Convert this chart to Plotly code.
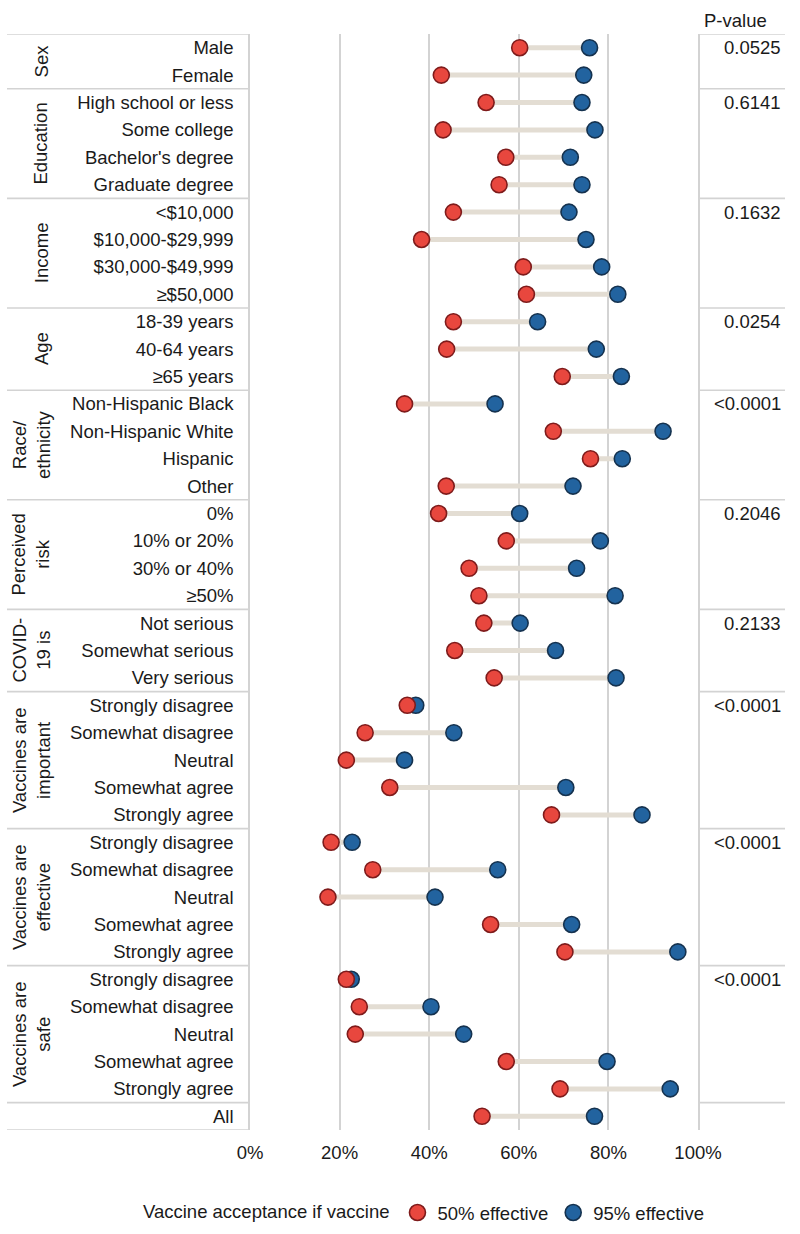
import plotly.graph_objects as go

# ---------------- data ----------------
group_names = ["Sex", "Education", "Income", "Age", "Race/<br>ethnicity",
               "Perceived<br>risk", "COVID-<br>19 is", "Vaccines are<br>important",
               "Vaccines are<br>effective", "Vaccines are<br>safe", ""]
group_sizes = [2, 4, 4, 3, 4, 4, 3, 5, 5, 5, 1]
p_values = ["0.0525", "0.6141", "0.1632", "0.0254", "<0.0001", "0.2046",
            "0.2133", "<0.0001", "<0.0001", "<0.0001", ""]

categories = [
    "Male", "Female",
    "High school or less", "Some college", "Bachelor's degree", "Graduate degree",
    "<$10,000", "$10,000-$29,999", "$30,000-$49,999", "≥$50,000",
    "18-39 years", "40-64 years", "≥65 years",
    "Non-Hispanic Black", "Non-Hispanic White", "Hispanic", "Other",
    "0%", "10% or 20%", "30% or 40%", "≥50%",
    "Not serious", "Somewhat serious", "Very serious",
    "Strongly disagree", "Somewhat disagree", "Neutral", "Somewhat agree", "Strongly agree",
    "Strongly disagree", "Somewhat disagree", "Neutral", "Somewhat agree", "Strongly agree",
    "Strongly disagree", "Somewhat disagree", "Neutral", "Somewhat agree", "Strongly agree",
    "All",
]

eff50 = [60.2, 42.7,
         52.7, 43.1, 57.1, 55.6,
         45.4, 38.3, 61.0, 61.7,
         45.4, 43.9, 69.7,
         34.5, 67.7, 76.0, 43.8,
         42.1, 57.2, 48.9, 51.1,
         52.2, 45.7, 54.5,
         35.1, 25.7, 21.5, 31.2, 67.3,
         18.1, 27.4, 17.4, 53.7, 70.3,
         21.5, 24.4, 23.5, 57.2, 69.2,
         51.8]

eff95 = [75.8, 74.5,
         74.1, 77.0, 71.5, 74.1,
         71.2, 75.0, 78.5, 82.1,
         64.2, 77.3, 82.9,
         54.7, 92.2, 83.1, 72.1,
         60.2, 78.2, 72.9, 81.5,
         60.3, 68.2, 81.7,
         37.0, 45.5, 34.5, 70.5, 87.5,
         22.8, 55.3, 41.3, 71.8, 95.5,
         22.6, 40.4, 47.7, 79.7, 93.8,
         76.9]

x_ticks = [0, 20, 40, 60, 80, 100]
x_tick_labels = ["0%", "20%", "40%", "60%", "80%", "100%"]

# ---------------- styling ----------------
FONT = "Arial, Liberation Sans, sans-serif"
TXT = "#1a1a1a"
LINE = "#d3d3d3"
W, H = 800, 1234
ML, MR, MT, MB = 250, 102, 34, 104
PW = W - ML - MR
PH = H - MT - MB

def px_x(px):
    return (px - ML) / PW

def px_y(py):
    return (H - MB - py) / PH

rows = list(range(len(categories)))

fig = go.Figure()

# connectors
lx, ly = [], []
for r, a, b in zip(rows, eff50, eff95):
    lx += [a, b, None]
    ly += [r, r, None]
fig.add_trace(go.Scatter(x=lx, y=ly, mode="lines",
                         line=dict(color="#E3DDD3", width=5),
                         hoverinfo="skip", showlegend=False))

fig.add_trace(go.Scatter(x=eff95, y=rows, mode="markers", name="95% effective",
                         legendrank=2,
                         marker=dict(size=16, color="#22639F",
                                     line=dict(color="#15324F", width=1.6))))
fig.add_trace(go.Scatter(x=eff50, y=rows, mode="markers", name="50% effective",
                         legendrank=1,
                         marker=dict(size=16, color="#E8473E",
                                     line=dict(color="#7E1B1B", width=1.6))))

shapes = []
annotations = []

start = 0
shapes.append(dict(type="line", xref="paper", yref="y", x0=px_x(7), x1=0,
                   y0=-0.5, y1=-0.5, line=dict(color=LINE, width=1.6)))
shapes.append(dict(type="line", xref="paper", yref="y", x0=1, x1=px_x(785),
                   y0=-0.5, y1=-0.5, line=dict(color=LINE, width=1.6)))
for name, size, pv in zip(group_names, group_sizes, p_values):
    end = start + size
    two_line = "<br>" in name
    if name:
        annotations.append(dict(
            text=name, xref="paper", yref="y",
            x=px_x(31 if two_line else 41), y=(start + end - 1) / 2,
            textangle=-90, showarrow=False, xanchor="center", yanchor="middle",
            font=dict(family=FONT, size=18.5, color=TXT)))
    if pv:
        annotations.append(dict(
            text=pv, xref="paper", yref="y", x=px_x(783), y=start,
            showarrow=False, xanchor="right", yanchor="middle",
            font=dict(family=FONT, size=18.5, color=TXT)))
    shapes.append(dict(type="line", xref="paper", yref="y", x0=px_x(7), x1=0,
                       y0=end - 0.5, y1=end - 0.5, line=dict(color=LINE, width=1.6)))
    if pv:
        shapes.append(dict(type="line", xref="paper", yref="y", x0=1, x1=px_x(785),
                           y0=end - 0.5, y1=end - 0.5, line=dict(color=LINE, width=1.6)))
    start = end

annotations.append(dict(text="P-value", xref="paper", yref="paper",
                        x=px_x(735), y=px_y(20), showarrow=False,
                        xanchor="center", yanchor="middle",
                        font=dict(family=FONT, size=18.5, color=TXT)))

fig.update_layout(
    width=W, height=H,
    margin=dict(l=ML, r=MR, t=MT, b=MB, pad=0, autoexpand=False),
    plot_bgcolor="white", paper_bgcolor="white",
    font=dict(family=FONT, size=18.5, color=TXT),
    shapes=shapes, annotations=annotations,
    showlegend=True,
    legend=dict(orientation="h", xref="container", yref="container",
                x=141 / W, y=(H - 1213) / H, xanchor="left", yanchor="middle",
                title=dict(text="Vaccine acceptance if vaccine", side="left",
                           font=dict(family=FONT, size=18.5, color=TXT)),
                font=dict(family=FONT, size=18.5, color=TXT),
                itemwidth=30, traceorder="normal",
                bgcolor="rgba(0,0,0,0)"),
    xaxis=dict(range=[0, 100], tickvals=x_ticks, ticktext=x_tick_labels,
               showgrid=True, gridcolor=LINE, gridwidth=1.6, zeroline=False,
               showline=False, ticks="outside", ticklen=6,
               tickcolor="rgba(0,0,0,0)", fixedrange=True),
    yaxis=dict(range=[len(categories) - 0.5, -0.5], tickvals=rows,
               ticktext=categories, showgrid=False, zeroline=False,
               showline=True, mirror=True, linecolor=LINE, linewidth=1.6,
               ticks="outside", ticklen=11, tickcolor="rgba(0,0,0,0)",
               fixedrange=True),
)

fig.write_html("out.html", config={"displayModeBar": False},
               post_script="document.body.style.margin='0px';document.body.style.padding='0px';")
